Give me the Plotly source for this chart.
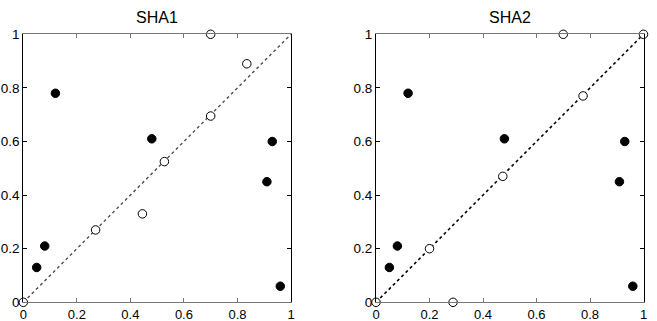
import plotly.graph_objects as go

# Data
filled_x = [0.12, 0.48, 0.93, 0.91, 0.96, 0.08, 0.05]
filled_y = [0.78, 0.61, 0.60, 0.45, 0.06, 0.21, 0.13]

sha1_open_x = [0.0, 0.27, 0.445, 0.527, 0.70, 0.835, 0.70]
sha1_open_y = [0.0, 0.27, 0.33, 0.525, 0.695, 0.89, 1.0]

sha2_open_x = [0.0, 0.20, 0.288, 0.474, 0.774, 0.70, 1.0]
sha2_open_y = [0.0, 0.20, 0.0, 0.47, 0.77, 1.0, 1.0]

diag_x = [0, 1]
diag_y = [0, 1]

tick_vals = [0, 0.2, 0.4, 0.6, 0.8, 1]
tick_text = ["0", "0.2", "0.4", "0.6", "0.8", "1"]
titles = ["SHA1", "SHA2"]

FONT = "Liberation Sans, Arial, Helvetica, sans-serif"

fig = go.Figure()

panels = [
    ("x", "y", sha1_open_x, sha1_open_y, "#444444", 1.3),
    ("x2", "y2", sha2_open_x, sha2_open_y, "black", 1.6),
]
for xa, ya, ox, oy, lc, lw in panels:
    fig.add_trace(go.Scatter(x=diag_x, y=diag_y, mode="lines", xaxis=xa, yaxis=ya,
                             line=dict(color=lc, width=lw, dash="dot"),
                             showlegend=False, hoverinfo="skip"))
    fig.add_trace(go.Scatter(x=filled_x, y=filled_y, mode="markers", xaxis=xa, yaxis=ya,
                             marker=dict(size=8.5, color="black", line=dict(color="black", width=1)),
                             showlegend=False, cliponaxis=False))
    fig.add_trace(go.Scatter(x=ox, y=oy, mode="markers", xaxis=xa, yaxis=ya,
                             marker=dict(size=8.5, color="white", line=dict(color="black", width=1)),
                             showlegend=False, cliponaxis=False))

axis_common = dict(
    range=[0, 1], tickvals=tick_vals, ticktext=tick_text,
    ticks="inside", ticklen=4, tickwidth=1,
    showline=True, linewidth=1, mirror="ticks",
    showgrid=False, zeroline=False, automargin=False,
    fixedrange=True,
)
xaxis_style = dict(linecolor="#777777", tickcolor="#777777",
                   tickfont=dict(family=FONT, size=13, color="black"), **axis_common)
yaxis_style = dict(linecolor="black", tickcolor="black",
                   tickfont=dict(family=FONT, size=13.5, color="black"), **axis_common)

x1d = [23.3 / 657, 291 / 657]
x2d = [376 / 657, 643.5 / 657]
yd = [1 - 302.3 / 321, 1 - 34.3 / 321]

fig.update_layout(
    width=657, height=321,
    margin=dict(l=0, r=0, t=0, b=0, pad=0, autoexpand=False),
    paper_bgcolor="white", plot_bgcolor="white",
    xaxis=dict(domain=x1d, anchor="y", **xaxis_style),
    yaxis=dict(domain=yd, anchor="x", **yaxis_style),
    xaxis2=dict(domain=x2d, anchor="y2", **xaxis_style),
    yaxis2=dict(domain=yd, anchor="x2", **yaxis_style),
    annotations=[
        dict(text=titles[0], x=sum(x1d) / 2, y=1 - 17 / 321, xref="paper", yref="paper",
             showarrow=False, font=dict(family=FONT, size=16, color="black"),
             xanchor="center", yanchor="middle"),
        dict(text=titles[1], x=sum(x2d) / 2, y=1 - 17 / 321, xref="paper", yref="paper",
             showarrow=False, font=dict(family=FONT, size=16, color="black"),
             xanchor="center", yanchor="middle"),
    ],
)

fig.write_html("out.html", config={"displayModeBar": False},
               post_script="document.body.style.margin='0';document.body.style.overflow='hidden';")
